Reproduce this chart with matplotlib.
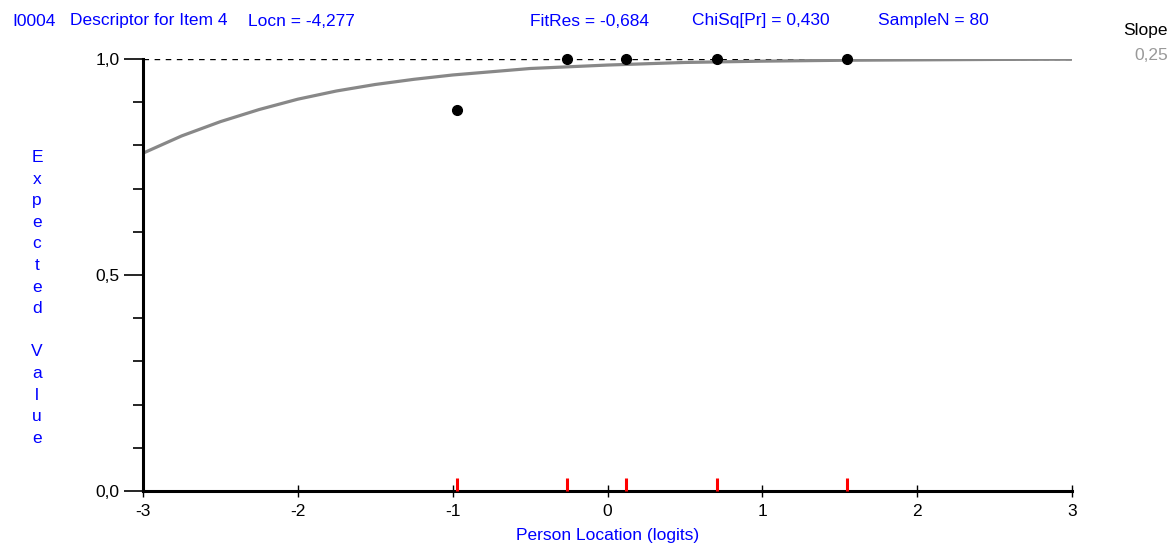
import numpy as np
import matplotlib.pyplot as plt
from matplotlib.ticker import MultipleLocator

# Observed class-interval means (logits) and observed values
obs_x = [-0.97, -0.26, 0.12, 0.71, 1.55]
obs_y = [0.882, 1.0, 1.0, 1.0, 1.0]

# Expected value curve
curve_x = [-3.0, -2.75, -2.5, -2.25, -2.0, -1.75, -1.5, -1.25, -1.0, -0.5, 0.0, 0.5, 1.0, 1.5, 2.0, 2.5, 3.0]
curve_y = [0.782, 0.822, 0.855, 0.883, 0.907, 0.926, 0.941, 0.953, 0.963, 0.978, 0.986, 0.992, 0.995, 0.997, 0.998, 0.999, 0.9995]

x_ticks = [-3, -2, -1, 0, 1, 2, 3]
y_ticks = [0.0, 0.5, 1.0]
y_tick_labels = ['0,0', '0,5', '1,0']

blue = '#0000ff'
plt.rcParams['font.family'] = ['Liberation Sans', 'DejaVu Sans']
fs = 12.5

fig = plt.figure(figsize=(11.73, 5.47), dpi=100)
ax = fig.add_axes([143 / 1173, 1 - 491 / 547, (1072 - 143) / 1173, (491 - 59) / 547])

ax.plot(curve_x, curve_y, color='#888888', linewidth=2.3, solid_capstyle='butt', zorder=2)
ax.axhline(1.0, color='black', linestyle=(0, (4, 4)), linewidth=1, zorder=1)
ax.plot(obs_x, obs_y, 'o', color='black', markersize=7, clip_on=False, zorder=4)
ax.vlines(obs_x, 0, 0.03, color='red', linewidth=2.2, zorder=5, clip_on=False)

ax.set_xlim(-3, 3)
ax.set_ylim(0, 1.0)
for s in ['top', 'right']:
    ax.spines[s].set_visible(False)
for s in ['left', 'bottom']:
    ax.spines[s].set_linewidth(2.2)

ax.set_xticks(x_ticks)
ax.set_xticklabels([str(t) for t in x_ticks])
ax.tick_params(axis='x', direction='inout', length=9, width=1, labelsize=fs, pad=5)
ax.set_yticks(y_ticks)
ax.set_yticklabels(y_tick_labels)
ax.yaxis.set_minor_locator(MultipleLocator(0.1))
ax.tick_params(axis='y', which='major', direction='out', length=14, width=1.2, labelsize=fs, pad=3)
ax.tick_params(axis='y', which='minor', direction='out', length=7, width=1.2)

ax.set_xlabel('Person Location (logits)', color=blue, fontsize=fs, labelpad=6)

# stacked vertical y label
fig.text(37 / 1173, 1 - 298 / 547, '\n'.join('Expected Value'), color=blue, fontsize=fs,
         ha='center', va='center', linespacing=1.55)

# header texts
hy = 1 - 21 / 547
fig.text(12 / 1173, hy, 'I0004', color=blue, fontsize=fs, va='center')
fig.text(70 / 1173, hy, 'Descriptor for Item 4', color=blue, fontsize=fs, va='center')
fig.text(248 / 1173, hy, 'Locn = -4,277', color=blue, fontsize=fs, va='center')
fig.text(530 / 1173, hy, 'FitRes = -0,684', color=blue, fontsize=fs, va='center')
fig.text(692 / 1173, hy, 'ChiSq[Pr] = 0,430', color=blue, fontsize=fs, va='center')
fig.text(878 / 1173, hy, 'SampleN = 80', color=blue, fontsize=fs, va='center')
fig.text(1168 / 1173, 1 - 31 / 547, 'Slope', color='black', fontsize=fs, va='center', ha='right')
fig.text(1168 / 1173, 1 - 55 / 547, '0,25', color='#999999', fontsize=fs, va='center', ha='right')

fig.savefig('out.png', dpi=100, facecolor='white')
